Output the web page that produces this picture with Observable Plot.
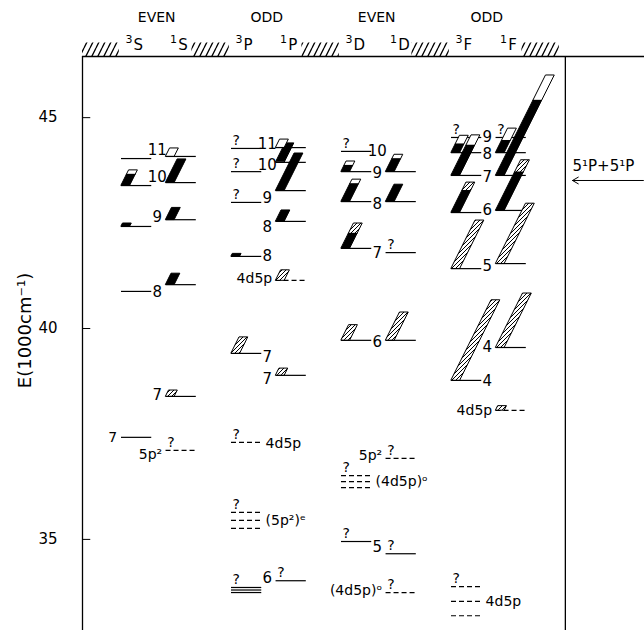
<!DOCTYPE html>
<html><head><meta charset="utf-8">
<script src="https://cdn.jsdelivr.net/npm/d3@7"></script>
<script src="https://cdn.jsdelivr.net/npm/@observablehq/plot@0.6"></script>
<style>body{margin:0;background:#fff}</style>
</head><body><div id="chart"></div>
<script>
// ---------- data ----------
const terms = ["3S","1S","3P","1P","3D","1D","3F","1F"];
const parities = ["EVEN","ODD","EVEN","ODD"];
const yTicks = [35, 40, 45];
const axisLabel = "E(1000cm⁻¹)";
const thresholdE = 43.51;
const thresholdLabel = "5¹P+5¹P";

// level energies (1000 cm^-1); dash = tentative configuration, q = "?"
const levels = [
 {t:"3S",E:44.03},{t:"3S",E:43.39},{t:"3S",E:42.42},{t:"3S",E:40.88},{t:"3S",E:37.42},
 {t:"1S",E:44.08},{t:"1S",E:43.46},{t:"1S",E:42.58},{t:"1S",E:41.04},{t:"1S",E:38.39},{t:"1S",E:37.11,dash:true,q:true},
 {t:"3P",E:44.27,q:true},{t:"3P",E:43.72,q:true},{t:"3P",E:42.99,q:true},{t:"3P",E:41.71},{t:"3P",E:39.41},{t:"3P",E:37.30,dash:true,q:true},
 {t:"3P",E:35.64,dash:true,q:true},{t:"3P",E:35.45,dash:true},{t:"3P",E:35.26,dash:true},
 {t:"3P",E:33.86,q:true},{t:"3P",E:33.80},{t:"3P",E:33.74},
 {t:"1P",E:44.29},{t:"1P",E:43.94},{t:"1P",E:43.27},{t:"1P",E:42.54},{t:"1P",E:41.14,dash:true},{t:"1P",E:38.89},{t:"1P",E:34.02,q:true},
 {t:"3D",E:44.20,q:true},{t:"3D",E:43.72},{t:"3D",E:43.01},{t:"3D",E:41.90},{t:"3D",E:39.72},
 {t:"3D",E:36.51,dash:true,q:true},{t:"3D",E:36.37,dash:true},{t:"3D",E:36.23,dash:true},{t:"3D",E:34.95,q:true},
 {t:"1D",E:43.72},{t:"1D",E:43.01},{t:"1D",E:41.80,q:true},{t:"1D",E:39.72},{t:"1D",E:36.92,dash:true,q:true},{t:"1D",E:34.66,q:true},{t:"1D",E:33.74,dash:true,q:true},
 {t:"3F",E:44.53,q:true},{t:"3F",E:44.17},{t:"3F",E:43.63},{t:"3F",E:42.75},{t:"3F",E:41.42},{t:"3F",E:38.77},
 {t:"3F",E:33.88,dash:true,q:true},{t:"3F",E:33.53,dash:true},{t:"3F",E:33.19,dash:true},
 {t:"1F",E:44.53,q:true},{t:"1F",E:44.17},{t:"1F",E:43.63},{t:"1F",E:42.80},{t:"1F",E:41.54},{t:"1F",E:39.55},{t:"1F",E:38.06,dash:true}
];

// autoionization widths (1000 cm^-1): fill of bar, optional top part
const bars = [
 {t:"3S",E:43.39,h:0.36,fill:"black",top:0.27,topFill:"white"},
 {t:"3S",E:42.42,h:0.07,fill:"black"},
 {t:"1S",E:44.08,h:0.19,fill:"white"},
 {t:"1S",E:43.46,h:0.55,fill:"black"},
 {t:"1S",E:42.58,h:0.28,fill:"black"},
 {t:"1S",E:41.04,h:0.26,fill:"black"},
 {t:"1S",E:38.39,h:0.14,fill:"hatch"},
 {t:"3P",E:41.71,h:0.06,fill:"black"},
 {t:"3P",E:39.41,h:0.38,fill:"hatch"},
 {t:"1P",E:44.29,h:0.19,fill:"white"},
 {t:"1P",E:43.94,h:0.45,fill:"black"},
 {t:"1P",E:43.27,h:0.88,fill:"black"},
 {t:"1P",E:42.54,h:0.26,fill:"black"},
 {t:"1P",E:41.14,h:0.24,fill:"hatch"},
 {t:"1P",E:38.89,h:0.16,fill:"hatch"},
 {t:"3D",E:43.72,h:0.24,fill:"black",top:0.4,topFill:"white"},
 {t:"3D",E:43.01,h:0.52,fill:"black",top:0.2,topFill:"white"},
 {t:"3D",E:41.90,h:0.59,fill:"black",top:0.4,topFill:"hatch"},
 {t:"3D",E:39.72,h:0.36,fill:"hatch"},
 {t:"1D",E:43.72,h:0.40,fill:"black",top:0.25,topFill:"white"},
 {t:"1D",E:43.01,h:0.40,fill:"black"},
 {t:"1D",E:39.72,h:0.66,fill:"hatch"},
 {t:"3F",E:44.17,h:0.40,fill:"black",top:0.5,topFill:"white"},
 {t:"3F",E:43.63,h:0.95,fill:"black",top:0.25,topFill:"white"},
 {t:"3F",E:42.75,h:0.71,fill:"black",top:0.27,topFill:"hatch"},
 {t:"3F",E:41.42,h:1.14,fill:"hatch"},
 {t:"3F",E:38.77,h:1.90,fill:"hatch"},
 {t:"1F",E:44.17,h:0.57,fill:"black",top:0.5,topFill:"white"},
 {t:"1F",E:43.63,h:2.37,fill:"black",top:0.25,topFill:"white"},
 {t:"1F",E:42.80,h:1.19,fill:"black",top:0.24,topFill:"hatch"},
 {t:"1F",E:41.54,h:1.42,fill:"hatch"},
 {t:"1F",E:39.55,h:1.28,fill:"hatch"},
 {t:"1F",E:38.06,h:0.10,fill:"hatch"}
];

// principal quantum number labels (g = L group: S,P,D,F)
const numLabels = [
 {g:0,E:44.22,s:"11"},{g:0,E:43.58,s:"10"},{g:0,E:42.63,s:"9"},{g:0,E:40.85,s:"8"},{g:0,E:38.43,s:"7"},
 {g:1,E:44.36,s:"11"},{g:1,E:43.87,s:"10"},{g:1,E:43.08,s:"9"},{g:1,E:42.40,s:"8"},{g:1,E:41.71,s:"8"},{g:1,E:39.31,s:"7"},{g:1,E:38.81,s:"7"},{g:1,E:34.07,s:"6"},
 {g:2,E:44.20,s:"10"},{g:2,E:43.68,s:"9"},{g:2,E:42.94,s:"8"},{g:2,E:41.78,s:"7"},{g:2,E:39.67,s:"6"},{g:2,E:34.81,s:"5"},
 {g:3,E:44.53,s:"9"},{g:3,E:44.13,s:"8"},{g:3,E:43.58,s:"7"},{g:3,E:42.80,s:"6"},{g:3,E:41.47,s:"5"},{g:3,E:39.55,s:"4"},{g:3,E:38.74,s:"4"}
];

// configuration notes
const notes = [
 {g:0,E:37.42,s:"7",at:"left"},
 {g:0,E:37.02,s:"5p²",at:"before"},
 {g:1,E:41.19,s:"4d5p",at:"before"},
 {g:1,E:37.27,s:"4d5p",at:"after"},
 {g:1,E:35.45,s:"(5p²)ᵉ",at:"after"},
 {g:2,E:36.98,s:"5p²",at:"before"},
 {g:2,E:36.37,s:"(4d5p)ᵒ",at:"after"},
 {g:2,E:33.79,s:"(4d5p)ᵒ",at:"before"},
 {g:3,E:38.06,s:"4d5p",at:"before"},
 {g:3,E:33.53,s:"4d5p",at:"after"}
];

// ---------- layout ----------
const FONT = "DejaVu Sans";
const SING = 0.81, LINE = 0.55, SLANT = 0.383, BARW = 0.16;
const xMin = -0.709, xMax = 9.509, yMin = 32.84, yMax = 46.45;
const frameRight = 8.07;
const xStart = t => { const i = terms.indexOf(t); return 2 * Math.floor(i / 2) + SING * (i % 2); };
const noteX = d => d.at === "left" ? 2*d.g - 0.08 : d.at === "before" ? 2*d.g + 0.74 : 2*d.g + 0.62;

// bar polygons (two points per part, slanted by the width)
const parts = [];
bars.forEach((b, i) => {
  const x0 = xStart(b.t);
  const split = b.E + b.h * (1 - (b.top || 0));
  const seg = (lo, hi, fill, k) => {
    for (const y of [lo, hi]) {
      const x1 = x0 + SLANT * (y - b.E);
      parts.push({id: i + "-" + k, y, x1, x2: x1 + BARW, fill});
    }
  };
  seg(b.E, split, b.fill, 0);
  if (b.top) seg(split, b.E + b.h, b.topFill, 1);
});
const headHatch = d3.range(5).map(g => ({a: Math.max(xMin, 2*g - 0.72), b: 2*g - 0.04}));

const fillOf = f => f === "hatch" ? "url(#hatchBar)" : f;
const barMark = f => Plot.areaX(parts.filter(p => p.fill === f), {
  y: "y", x1: "x1", x2: "x2", z: "id", curve: "linear",
  fill: fillOf(f), stroke: "black", strokeWidth: 1
});
const noteMark = (filter, anchor) => Plot.text(notes.filter(filter), {
  x: noteX, y: "E", text: "s", textAnchor: anchor, fontSize: 14, fontFamily: FONT
});

const chart = Plot.plot({
  width: 644, height: 630,
  marginTop: 56, marginLeft: 82, marginRight: 0, marginBottom: 0,
  style: {fontFamily: FONT, fontSize: "15px", background: "white", color: "black"},
  x: {domain: [xMin, xMax], axis: null},
  y: {domain: [yMin, yMax], ticks: yTicks, tickSize: 0, tickPadding: 25, label: null},
  marks: [
    // frame
    Plot.ruleY([yMax], {stroke: "black", strokeWidth: 1.3}),
    Plot.ruleX([xMin], {stroke: "black", strokeWidth: 1.3}),
    Plot.ruleX([frameRight], {stroke: "black", strokeWidth: 1.3}),
    Plot.ruleY(yTicks, {x1: xMin, x2: xMin + 0.15, stroke: "black"}),
    // header
    Plot.rect(headHatch, {x1: "a", x2: "b", y1: yMax, y2: yMax + 0.32, fill: "url(#hatchHead)"}),
    Plot.text(parities, {x: (d, i) => 2*i + 0.64, frameAnchor: "top", lineAnchor: "middle", dy: -39, fontSize: 14, fontFamily: FONT, letterSpacing: "1px"}),
    Plot.text(terms, {x: t => xStart(t) + 0.2, text: t => t[0], textAnchor: "end", frameAnchor: "top", lineAnchor: "middle", dy: -17, fontSize: 11, fontFamily: FONT}),
    Plot.text(terms, {x: t => xStart(t) + 0.22, text: t => t[1], textAnchor: "start", frameAnchor: "top", lineAnchor: "middle", dy: -11, fontSize: 15, fontFamily: FONT}),
    // axis label
    Plot.text([axisLabel], {frameAnchor: "left", textAnchor: "middle", lineAnchor: "middle", dx: -57, dy: -13, rotate: -90, fontSize: 18, fontFamily: FONT, letterSpacing: "3px"}),
    // levels
    Plot.ruleY(levels.filter(d => !d.dash), {y: "E", x1: d => xStart(d.t), x2: d => xStart(d.t) + LINE, stroke: "black", strokeWidth: 1.2}),
    Plot.ruleY(levels.filter(d => d.dash), {y: "E", x1: d => xStart(d.t), x2: d => xStart(d.t) + LINE, stroke: "black", strokeWidth: 1.2, strokeDasharray: "5,3"}),
    // widths
    barMark("black"), barMark("white"), barMark("hatch"),
    // labels
    Plot.text(levels.filter(d => d.q), {x: d => xStart(d.t) + 0.02, y: "E", text: () => "?", textAnchor: "start", dy: -8, fontSize: 14, fontFamily: FONT}),
    Plot.text(numLabels, {x: d => 2*d.g + 0.65, y: "E", text: "s", fontSize: 15, fontFamily: FONT}),
    noteMark(d => d.at === "after", "start"),
    noteMark(d => d.at !== "after", "end"),
    // threshold
    Plot.arrow([thresholdE], {x1: xMax - 0.02, x2: frameRight + 0.13, y1: d => d, y2: d => d, stroke: "black", strokeWidth: 1, headLength: 10}),
    Plot.text([thresholdLabel], {x: frameRight + 0.13, y: thresholdE + 0.33, textAnchor: "start", fontSize: 15, fontFamily: FONT, letterSpacing: "0.5px"})
  ]
});

const svg = d3.select(chart);
const defs = svg.insert("defs", ":first-child");
const pb = defs.append("pattern").attr("id", "hatchBar").attr("patternUnits", "userSpaceOnUse").attr("width", 4).attr("height", 4);
pb.append("rect").attr("width", 4).attr("height", 4).attr("fill", "white");
pb.append("path").attr("d", "M-1,1L1,-1M0,4L4,0M3,5L5,3").attr("stroke", "black").attr("stroke-width", 1);
const ph = defs.append("pattern").attr("id", "hatchHead").attr("patternUnits", "userSpaceOnUse").attr("width", 6).attr("height", 12);
ph.append("path").attr("d", "M0,12L6,0M-1,2L0,0M6,12L7,10").attr("stroke", "black").attr("stroke-width", 1.3);
document.getElementById("chart").appendChild(chart);
</script>
</body></html>
